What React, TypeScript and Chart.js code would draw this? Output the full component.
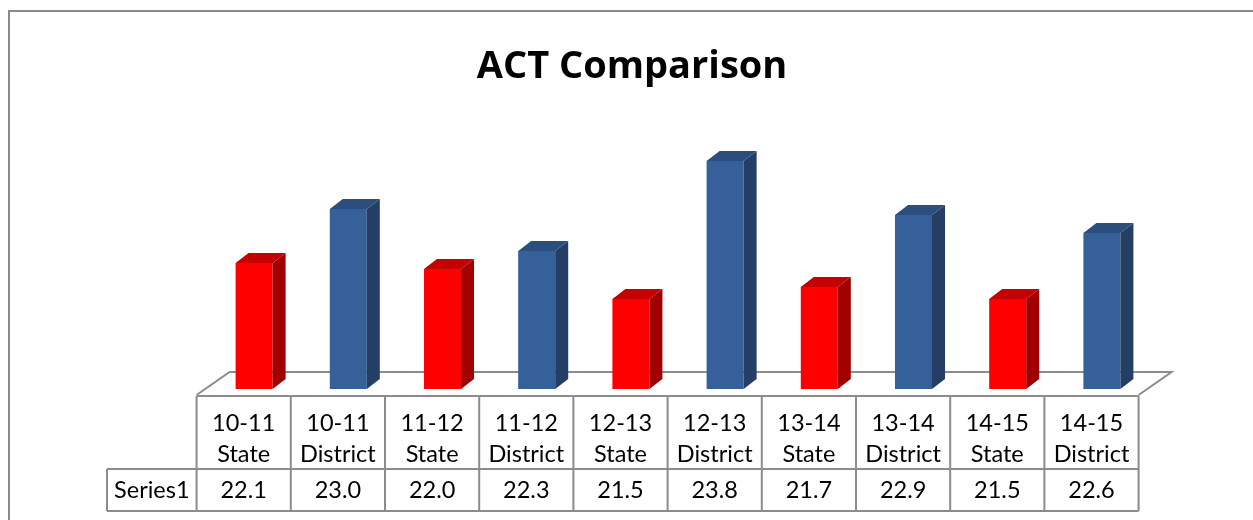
import React, { useEffect, useRef } from "react";
import { Chart, registerables } from "chart.js";

Chart.register(...registerables);

const categories: string[][] = [
  ["10-11", "State"],
  ["10-11", "District"],
  ["11-12", "State"],
  ["11-12", "District"],
  ["12-13", "State"],
  ["12-13", "District"],
  ["13-14", "State"],
  ["13-14", "District"],
  ["14-15", "State"],
  ["14-15", "District"],
];
const chartTitle = "ACT Comparison";
const seriesName = "Series1";
const series1: number[] = [22.1, 23.0, 22.0, 22.3, 21.5, 23.8, 21.7, 22.9, 21.5, 22.6];
const valueLabels: string[] = ["22.1", "23.0", "22.0", "22.3", "21.5", "23.8", "21.7", "22.9", "21.5", "22.6"];

const RED = { front: "#FF0000", top: "#C40000", side: "#A00000" };
const BLUE = { front: "#36609A", top: "#2C4E7D", side: "#243F63" };

const FONT = "Lato, 'Open Sans', sans-serif";
const TITLE_FONT = "'Open Sans', Lato, sans-serif";
const DX = 13;
const DY = 10;
const SHIFT = 10.4; // perspective offset of bars relative to table columns
const GRID = "#8C8C8C";

const palette = (i: number) => (i % 2 === 0 ? RED : BLUE);

const framePlugin = {
  id: "frame",
  beforeDraw(chart: any) {
    const ctx = chart.ctx;
    ctx.save();
    ctx.fillStyle = "#fff";
    ctx.fillRect(0, 0, chart.width, chart.height);
    ctx.strokeStyle = "#8A8A8A";
    ctx.lineWidth = 2;
    ctx.beginPath();
    ctx.moveTo(9, chart.height + 2);
    ctx.lineTo(9, 11);
    ctx.lineTo(chart.width + 2, 11);
    ctx.stroke();
    ctx.fillStyle = "#000";
    ctx.textAlign = "center";
    ctx.textBaseline = "alphabetic";
    ctx.font = `bold 38px ${TITLE_FONT}`;
    ctx.fillText(chartTitle, 632, 78);
    ctx.restore();
  },
};

const floorPlugin = {
  id: "floor3d",
  beforeDatasetsDraw(chart: any) {
    const { ctx, chartArea } = chart;
    const left = chartArea.left - SHIFT;
    const right = chartArea.right - SHIFT;
    const front = chartArea.bottom + 6;
    const back = chartArea.bottom - 17;
    ctx.save();
    ctx.strokeStyle = GRID;
    ctx.lineWidth = 2;
    ctx.beginPath();
    ctx.moveTo(left, front);
    ctx.lineTo(left + 33, back);
    ctx.lineTo(right + 33, back);
    ctx.lineTo(right, front);
    ctx.stroke();
    ctx.restore();
  },
};

const bar3dPlugin = {
  id: "bar3d",
  afterDatasetsDraw(chart: any) {
    const { ctx, chartArea } = chart;
    const meta = chart.getDatasetMeta(0);
    ctx.save();
    meta.data.forEach((el: any, i: number) => {
      const p = el.getProps(["x", "y", "base", "width"], true);
      const { x, y, width } = p;
      const base = Math.min(p.base, chartArea.bottom);
      const l = x - width / 2;
      const r = x + width / 2;
      const c = palette(i);
      ctx.fillStyle = c.side;
      ctx.beginPath();
      ctx.moveTo(r, y);
      ctx.lineTo(r + DX, y - DY);
      ctx.lineTo(r + DX, base - DY);
      ctx.lineTo(r, base);
      ctx.closePath();
      ctx.fill();
      ctx.fillStyle = c.top;
      ctx.beginPath();
      ctx.moveTo(l, y);
      ctx.lineTo(l + DX, y - DY);
      ctx.lineTo(r + DX, y - DY);
      ctx.lineTo(r, y);
      ctx.closePath();
      ctx.fill();
    });
    ctx.restore();
  },
};

const tablePlugin = {
  id: "dataTable",
  afterDraw(chart: any) {
    const { ctx } = chart;
    const xs = chart.scales.x;
    const n = categories.length;
    const colW = (xs.right - xs.left) / n;
    const tLeft = xs.left - SHIFT;
    const tRight = xs.right - SHIFT;
    const y0 = 396;
    const y1 = 469;
    const y2 = 511;
    const labelLeft = 107;
    ctx.save();
    ctx.strokeStyle = GRID;
    ctx.lineWidth = 2;
    ctx.beginPath();
    ctx.moveTo(tLeft, y0);
    ctx.lineTo(tRight, y0);
    ctx.moveTo(labelLeft, y1);
    ctx.lineTo(tRight, y1);
    ctx.moveTo(labelLeft, y2);
    ctx.lineTo(tRight, y2);
    ctx.moveTo(labelLeft, y1);
    ctx.lineTo(labelLeft, y2);
    for (let i = 0; i <= n; i++) {
      const cx = tLeft + i * colW;
      ctx.moveTo(cx, y0);
      ctx.lineTo(cx, y2);
    }
    ctx.stroke();

    ctx.fillStyle = "#000";
    ctx.textAlign = "center";
    ctx.textBaseline = "alphabetic";
    ctx.font = `23.5px ${FONT}`;
    for (let i = 0; i < n; i++) {
      const cx = xs.getPixelForValue(i) - SHIFT;
      ctx.fillText(categories[i][0], cx, 431);
      ctx.fillText(categories[i][1], cx, 462);
      ctx.fillText(valueLabels[i], cx, 498);
    }
    ctx.fillText(seriesName, (labelLeft + tLeft) / 2, 498);
    ctx.restore();
  },
};

export default function App() {
  const ref = useRef<HTMLCanvasElement | null>(null);
  useEffect(() => {
    if (!ref.current) return;
    const chart = new Chart(ref.current, {
      type: "bar",
      data: {
        labels: categories.map((c) => c.join(" ")),
        datasets: [
          {
            label: seriesName,
            data: series1,
            backgroundColor: series1.map((_, i) => palette(i).front),
            borderWidth: 0,
            barPercentage: 0.393,
            categoryPercentage: 1,
          },
        ],
      },
      options: {
        responsive: false,
        animation: false,
        layout: { padding: { left: 207, right: 104, bottom: 131, top: 149 } },
        scales: {
          x: { display: false },
          y: { display: false, min: 20, max: 24 },
        },
        plugins: {
          legend: { display: false },
          tooltip: { enabled: false },
          title: { display: false },
        },
      },
      plugins: [framePlugin, floorPlugin, bar3dPlugin, tablePlugin],
    });
    return () => chart.destroy();
  }, []);
  return (
    <div style={{ position: "fixed", left: 0, top: 0, width: 1253, height: 520, background: "#fff" }}>
      <canvas ref={ref} width={1253} height={520} style={{ display: "block" }} />
    </div>
  );
}
